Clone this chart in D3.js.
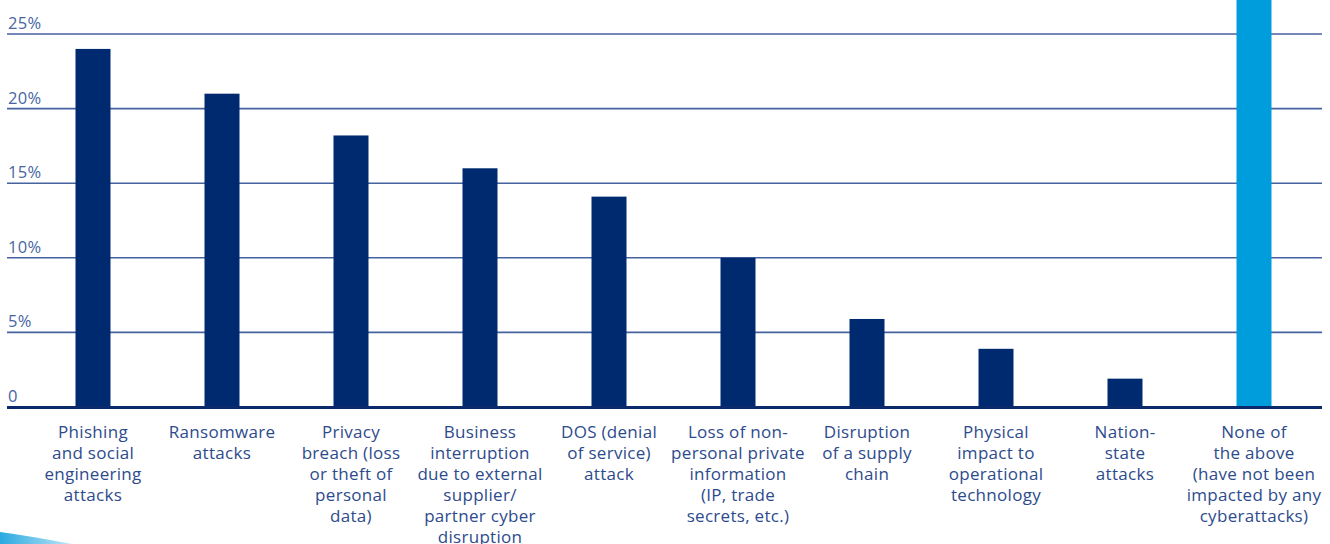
<!DOCTYPE html>
<html>
<head>
<meta charset="utf-8">
<script src="https://cdn.jsdelivr.net/npm/d3@7"></script>
<style>
  html, body { margin: 0; padding: 0; background: #ffffff; }
  svg { display: block; }
</style>
</head>
<body>
<svg id="chart" width="1330" height="544"></svg>
<script>
const categories = [
  ["Phishing", "and social", "engineering", "attacks"],
  ["Ransomware", "attacks"],
  ["Privacy", "breach (loss", "or theft of", "personal", "data)"],
  ["Business", "interruption", "due to external", "supplier/", "partner cyber", "disruption"],
  ["DOS (denial", "of service)", "attack"],
  ["Loss of non-", "personal private", "information", "(IP, trade", "secrets, etc.)"],
  ["Disruption", "of a supply", "chain"],
  ["Physical", "impact to", "operational", "technology"],
  ["Nation-", "state", "attacks"],
  ["None of", "the above", "(have not been", "impacted by any", "cyberattacks)"]
];
const values = [24, 21, 18.2, 16, 14.1, 10, 5.9, 3.9, 1.9, 31];
const highlight = [false, false, false, false, false, false, false, false, false, true];
const yTicks = [0, 5, 10, 15, 20, 25];
const yTickLabels = ["0", "5%", "10%", "15%", "20%", "25%"];

const svg = d3.select("#chart");
const gridLeft = 7, gridRight = 1322;

const y = d3.scaleLinear().domain([0, 25]).range([407, 34]);
const x = d3.scalePoint().domain(d3.range(categories.length)).range([93, 1254]);
const barW = 35;

// gridlines
svg.append("g").selectAll("line")
  .data(yTicks.filter(d => d > 0))
  .join("line")
  .attr("x1", gridLeft).attr("x2", gridRight)
  .attr("y1", d => y(d)).attr("y2", d => y(d))
  .attr("stroke", "#46629f")
  .attr("stroke-width", 1.6);

// tick labels
svg.append("g").selectAll("text")
  .data(yTicks)
  .join("text")
  .attr("x", 8)
  .attr("y", d => y(d) - 5)
  .attr("font-family", "'Open Sans', sans-serif")
  .attr("font-size", 16.5)
  .attr("letter-spacing", 0.3)
  .attr("fill", "#4765a3")
  .text((d, i) => yTickLabels[i]);

// bars
svg.append("g").selectAll("rect")
  .data(values)
  .join("rect")
  .attr("x", (d, i) => x(i) - barW / 2)
  .attr("width", barW)
  .attr("y", d => y(d))
  .attr("height", d => y(0) - y(d))
  .attr("fill", (d, i) => highlight[i] ? "#009ddd" : "#002a70");

// baseline
svg.append("line")
  .attr("x1", gridLeft).attr("x2", gridRight)
  .attr("y1", y(0) + 0.5).attr("y2", y(0) + 0.5)
  .attr("stroke", "#0b2a6c")
  .attr("stroke-width", 3);

// category labels
const lab = svg.append("g").selectAll("text")
  .data(categories)
  .join("text")
  .attr("text-anchor", "middle")
  .attr("font-family", "'Open Sans', sans-serif")
  .attr("font-size", 17)
  .attr("letter-spacing", 0.3)
  .attr("fill", "#2d4b8c")
  .attr("transform", (d, i) => `translate(${x(i)},${438})`);
lab.selectAll("tspan")
  .data(d => d)
  .join("tspan")
  .attr("x", 0)
  .attr("y", (d, j) => j * 21)
  .text(d => d);

// decorative swoosh bottom-left
const defs = svg.append("defs");
const grad = defs.append("linearGradient").attr("id", "sw").attr("x1", "0").attr("x2", "1");
grad.append("stop").attr("offset", "0").attr("stop-color", "#2aa9e0");
grad.append("stop").attr("offset", "1").attr("stop-color", "#bfe6f7");
svg.append("path")
  .attr("d", "M0,532 Q30,536 72,544 L0,544 Z")
  .attr("fill", "url(#sw)");
</script>
</body>
</html>
